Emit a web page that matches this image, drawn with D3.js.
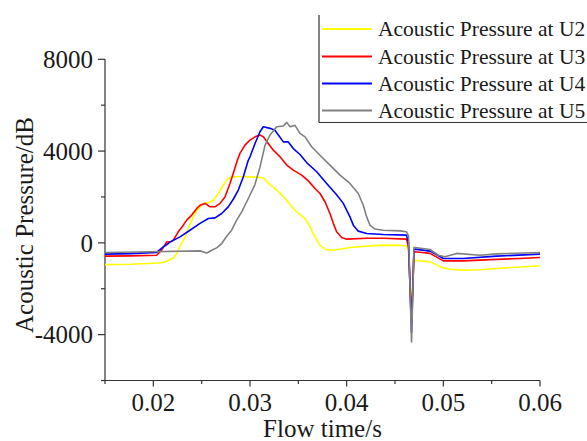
<!DOCTYPE html>
<html>
<head>
<meta charset="utf-8">
<script src="https://cdn.jsdelivr.net/npm/d3@7"></script>
<style>
  html, body { margin: 0; padding: 0; background: #fff; }
  svg { display: block; }
  text { font-family: "Liberation Serif", "Times New Roman", Tinos, serif; fill: #1a1a1a; }
</style>
</head>
<body>
<svg id="chart" width="587" height="441"></svg>
<script>
// Acoustic pressure probes: [flow time (s), pressure (dB)]
const seriesNames = ["Acoustic Pressure at U2", "Acoustic Pressure at U3", "Acoustic Pressure at U4", "Acoustic Pressure at U5"];
const seriesColors = ["#ffff00", "#ff0000", "#0000ff", "#808080"];

const u2 = [
  [0.0150, -950], [0.0176, -930], [0.0205, -880], [0.0210, -860], [0.0215, -780], [0.0221, -650],
  [0.02245, -450], [0.02276, -150], [0.02307, 100], [0.02328, 260], [0.02362, 640], [0.02397, 990],
  [0.02431, 1280], [0.02483, 1570], [0.02517, 1720], [0.02569, 1750], [0.0262, 1860], [0.02672, 2150],
  [0.02724, 2520], [0.02775, 2810], [0.02827, 2880], [0.02948, 2880], [0.03103, 2860], [0.03145, 2800],
  [0.03189, 2600], [0.03276, 2300], [0.03362, 1940], [0.03431, 1570], [0.0350, 1280], [0.03569, 1060],
  [0.0362, 700], [0.03672, 260], [0.03724, -100], [0.03776, -290], [0.03862, -320], [0.04034, -200],
  [0.04207, -145], [0.04379, -100], [0.04551, -110], [0.04619, -140], [0.0464, -300], [0.04671, -2800],
  [0.04696, -900], [0.04707, -760], [0.04862, -830], [0.04983, -1070], [0.05069, -1150], [0.05206, -1190],
  [0.05379, -1170], [0.05552, -1120], [0.05793, -1050], [0.0600, -1000]
];

const u3 = [
  [0.0150, -580], [0.0176, -570], [0.02034, -540], [0.02086, -320], [0.02138, 40], [0.0219, 60],
  [0.02207, 120], [0.02258, 480], [0.0231, 770], [0.02345, 990], [0.02397, 1210], [0.02449, 1500],
  [0.02483, 1640], [0.02535, 1720], [0.02586, 1570], [0.02638, 1570], [0.0269, 1720], [0.02741, 2000],
  [0.02793, 2590], [0.02827, 3030], [0.02869, 3600], [0.02896, 3900], [0.02948, 4260], [0.0300, 4480],
  [0.03052, 4620], [0.03103, 4700], [0.03138, 4620], [0.03189, 4330], [0.03241, 4040], [0.0331, 3750],
  [0.0338, 3390], [0.03448, 3170], [0.03535, 2950], [0.03603, 2700], [0.03672, 2370], [0.03724, 2150],
  [0.03776, 1790], [0.03827, 1280], [0.03862, 850], [0.03896, 480], [0.03948, 235], [0.0400, 160],
  [0.04207, 200], [0.04379, 200], [0.04619, 160], [0.0464, -200], [0.04671, -3500], [0.04696, -400],
  [0.04707, -390], [0.04862, -460], [0.0500, -785], [0.05206, -785], [0.05552, -720], [0.05793, -680],
  [0.0600, -640]
];

const u4 = [
  [0.0150, -490], [0.0176, -470], [0.02034, -420], [0.02103, -175], [0.02155, -30], [0.02172, 40],
  [0.02276, 260], [0.02379, 550], [0.02483, 850], [0.02569, 1060], [0.02638, 1090], [0.02707, 1280],
  [0.02775, 1570], [0.02827, 1900], [0.02879, 2300], [0.02931, 2880], [0.02982, 3600], [0.0300, 3750],
  [0.03052, 4330], [0.03103, 4840], [0.03138, 5060], [0.03207, 4990], [0.03258, 4910], [0.03293, 4700],
  [0.03345, 4400], [0.03396, 4400], [0.03448, 4110], [0.03517, 3850], [0.03586, 3500], [0.0369, 3100],
  [0.03793, 2590], [0.03896, 2100], [0.03965, 1720], [0.04034, 1130], [0.04069, 770], [0.0412, 510],
  [0.04207, 410], [0.04379, 365], [0.04619, 335], [0.0464, 0], [0.04671, -3900], [0.04696, -300],
  [0.04707, -275], [0.04862, -360], [0.0500, -680], [0.05206, -680], [0.05552, -580], [0.0600, -490]
];

const u5 = [
  [0.0150, -420], [0.01965, -390], [0.02483, -350], [0.02552, -440], [0.02604, -320], [0.02655, -220],
  [0.02707, -30], [0.02759, 290], [0.0281, 550], [0.02862, 990], [0.02914, 1350], [0.02979, 1900],
  [0.03052, 2550], [0.03103, 3300], [0.03155, 4250], [0.03207, 4700], [0.03276, 5060], [0.03345, 5090],
  [0.0338, 5250], [0.03414, 5060], [0.03465, 5120], [0.03517, 4770], [0.03569, 4620], [0.03638, 4190],
  [0.03724, 3820], [0.03827, 3390], [0.03931, 2950], [0.04034, 2590], [0.0412, 2150], [0.04172, 1640],
  [0.04207, 1130], [0.04241, 770], [0.04293, 600], [0.04379, 550], [0.04551, 520], [0.04619, 480],
  [0.0464, 300], [0.04671, -4320], [0.04696, -200], [0.04707, -200], [0.04862, -290], [0.04948, -540],
  [0.05017, -610], [0.05138, -460], [0.05379, -540], [0.05552, -480], [0.0600, -420]
];

const seriesData = [u2, u3, u4, u5];

const xTicks = [0.02, 0.03, 0.04, 0.05, 0.06];
const xMinorTicks = [0.015, 0.025, 0.035, 0.045, 0.055];
const yTicks = [-4000, 0, 4000, 8000];
const yMinorTicks = [-6000, -2000, 2000, 6000];

const svg = d3.select("#chart");

const x = d3.scaleLinear().domain([0.015, 0.06]).range([105, 540]);
const y = d3.scaleLinear().domain([-6000, 8000]).range([380.5, 59.3]);

const axisColor = "#333";

// x axis
const xAxisG = svg.append("g").attr("transform", `translate(0,${y(-6000)})`);
xAxisG.append("line")
  .attr("x1", x(0.015)).attr("x2", x(0.06))
  .attr("stroke", axisColor).attr("stroke-width", 1.2);
xAxisG.selectAll(".xmaj").data(xTicks).enter().append("line")
  .attr("x1", d => x(d)).attr("x2", d => x(d)).attr("y1", 0).attr("y2", 6)
  .attr("stroke", axisColor).attr("stroke-width", 1.2);
xAxisG.selectAll(".xmin").data(xMinorTicks).enter().append("line")
  .attr("x1", d => x(d)).attr("x2", d => x(d)).attr("y1", 0).attr("y2", 3.5)
  .attr("stroke", axisColor).attr("stroke-width", 1.2);
xAxisG.selectAll(".xlab").data(xTicks).enter().append("text")
  .attr("x", d => x(d)).attr("y", 30.5)
  .attr("text-anchor", "middle").attr("font-size", 25)
  .text(d => d3.format(".2f")(d));

// y axis
const yAxisG = svg.append("g").attr("transform", `translate(${x(0.015)},0)`);
yAxisG.append("line")
  .attr("y1", y(8000)).attr("y2", y(-6000))
  .attr("stroke", axisColor).attr("stroke-width", 1.2);
yAxisG.selectAll(".ymaj").data(yTicks).enter().append("line")
  .attr("y1", d => y(d)).attr("y2", d => y(d)).attr("x1", 0).attr("x2", -7)
  .attr("stroke", axisColor).attr("stroke-width", 1.2);
yAxisG.selectAll(".ymin").data(yMinorTicks).enter().append("line")
  .attr("y1", d => y(d)).attr("y2", d => y(d)).attr("x1", 0).attr("x2", -4)
  .attr("stroke", axisColor).attr("stroke-width", 1.2);
yAxisG.selectAll(".ylab").data(yTicks).enter().append("text")
  .attr("x", -12).attr("y", d => y(d)).attr("dy", "0.35em")
  .attr("text-anchor", "end").attr("font-size", 25)
  .text(d => d);

// axis titles
svg.append("text")
  .attr("x", 322.5).attr("y", 437)
  .attr("text-anchor", "middle").attr("font-size", 25)
  .text("Flow time/s");
svg.append("text")
  .attr("transform", `translate(32.5,225) rotate(-90)`)
  .attr("text-anchor", "middle").attr("font-size", 25)
  .text("Acoustic Pressure/dB");

// series lines
const line = d3.line().x(d => x(d[0])).y(d => y(d[1]));
svg.selectAll(".series").data(seriesData).enter().append("path")
  .attr("d", line)
  .attr("fill", "none")
  .attr("stroke", (d, i) => seriesColors[i])
  .attr("stroke-width", 1.6)
  .attr("stroke-linejoin", "round");

// legend
const legend = svg.append("g");
legend.append("rect")
  .attr("x", 319).attr("y", 15).attr("width", 300).attr("height", 107)
  .attr("fill", "#fff");
legend.append("line")
  .attr("x1", 319).attr("x2", 319).attr("y1", 15).attr("y2", 122.5)
  .attr("stroke", axisColor).attr("stroke-width", 1.2);
legend.append("line")
  .attr("x1", 319).attr("x2", 587).attr("y1", 122.5).attr("y2", 122.5)
  .attr("stroke", axisColor).attr("stroke-width", 1.2);
const rowY = [29, 56.5, 83.5, 110.5];
seriesNames.forEach((name, i) => {
  legend.append("line")
    .attr("x1", 322).attr("x2", 372).attr("y1", rowY[i]).attr("y2", rowY[i])
    .attr("stroke", seriesColors[i]).attr("stroke-width", 2);
  legend.append("text")
    .attr("x", 378).attr("y", rowY[i]).attr("dy", "0.33em")
    .attr("font-size", 21.5)
    .text(name);
});
</script>
</body>
</html>
